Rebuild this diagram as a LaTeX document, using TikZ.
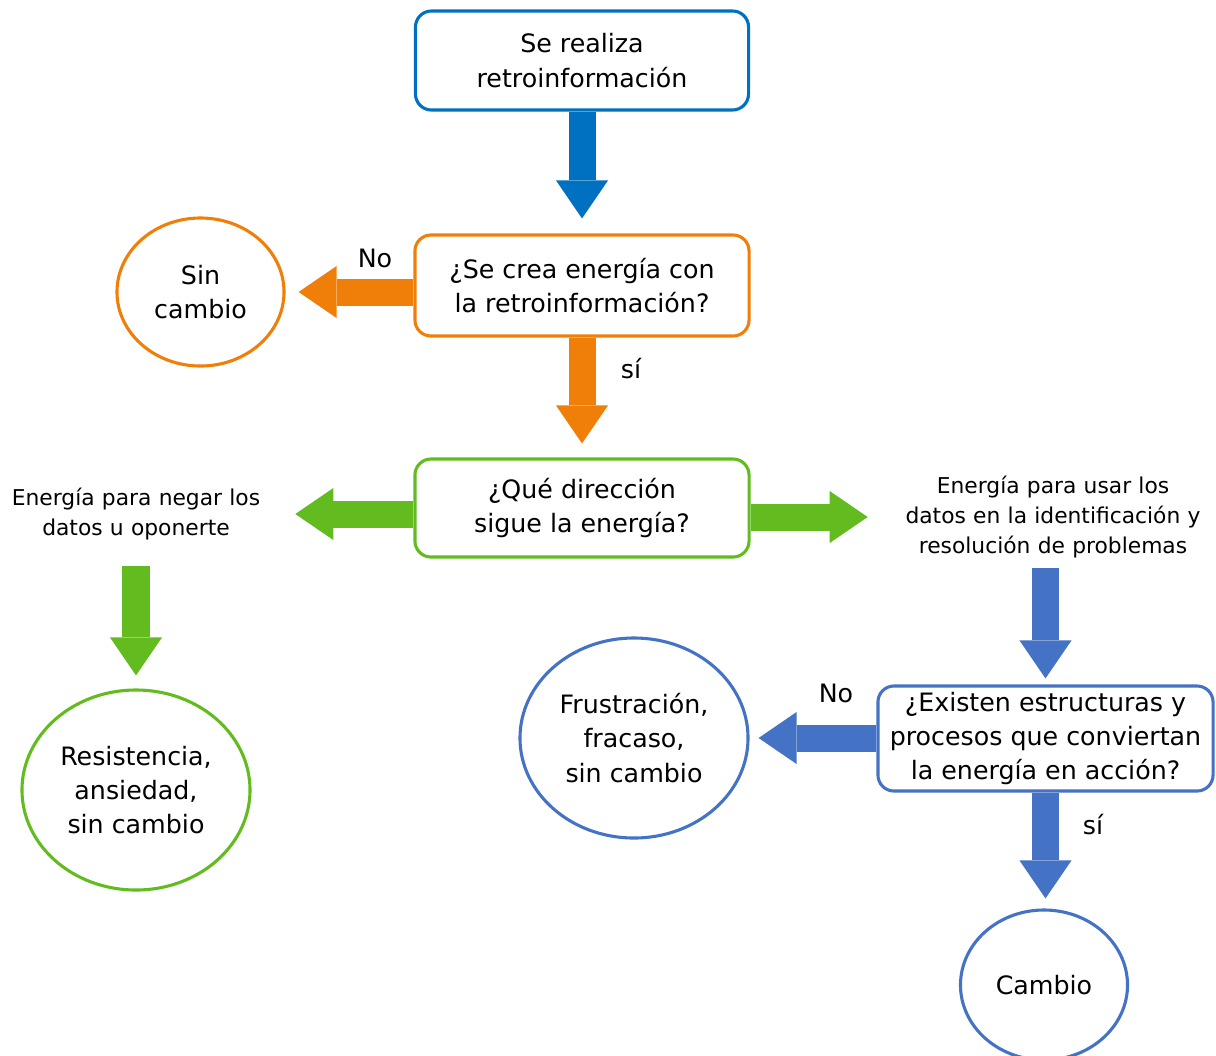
\documentclass[tikz,border=0pt]{standalone}
\usepackage{fontspec}
\setmainfont{DejaVu Sans}
\usetikzlibrary{positioning, arrows.meta, shapes.geometric}
\definecolor{fbBlue}{HTML}{0070C0}
\definecolor{fbOrange}{HTML}{F07F09}
\definecolor{fbGreen}{HTML}{62BB1F}
\definecolor{fbSteel}{HTML}{4472C4}

\tikzset{
  caja/.style={draw=#1, line width=2.2pt, rounded corners=0.4cm, fill=white,
    align=center, inner sep=0pt, font=\fontsize{18}{24.5}\selectfont},
  ovalo/.style={draw=#1, ellipse, line width=2.2pt, fill=white,
    align=center, inner sep=0pt, font=\fontsize{18}{24.5}\selectfont},
  nota/.style={align=center, inner sep=0pt, font=\fontsize{15.5}{21.3}\selectfont},
  rotulo/.style={inner sep=0pt, font=\fontsize{18}{24.5}\selectfont},
  flecha/.style={draw=#1, line width=0.675cm,
    -{Triangle[width=1.3cm, length=0.95cm, line width=0pt]}}
}

\begin{document}
\begin{tikzpicture}[x=0.025cm, y=-0.025cm]
  \useasboundingbox (0,0) rectangle (1216,1055);

  % Cajas de pregunta
  \node[caja=fbBlue, minimum width=8.325cm, minimum height=2.475cm]
    (retro) at (582,60.5) {Se realiza\\retroinformación};
  \node[caja=fbOrange, minimum width=8.35cm, minimum height=2.525cm]
    (energia) at (582,285.5) {¿Se crea energía con\\la retroinformación?};
  \node[caja=fbGreen, minimum width=8.35cm, minimum height=2.45cm]
    (direccion) at (582,508) {¿Qué dirección\\sigue la energía?};
  \node[caja=fbSteel, minimum width=8.375cm, minimum height=2.625cm]
    (estruct) at (1045.5,738.5) {¿Existen estructuras y\\procesos que conviertan\\la energía en acción?};

  % Resultados
  \node[ovalo=fbOrange, minimum width=4.175cm, minimum height=3.7cm]
    (sincambio) at (200.5,292) {Sin\\cambio};
  \node[ovalo=fbGreen, minimum width=5.7cm, minimum height=5cm]
    (resist) at (136,790) {Resistencia,\\ansiedad,\\sin cambio};
  \node[ovalo=fbSteel, minimum width=5.7cm, minimum height=5cm]
    (frust) at (634,738) {Frustración,\\fracaso,\\sin cambio};
  \node[ovalo=fbSteel, minimum width=4.175cm, minimum height=3.75cm]
    (cambio) at (1044,985) {Cambio};

  % Textos de direccion
  \node[nota, text width=6.3cm] (negar) at (136,514)
    {Energía para negar los\\datos u oponerte};
  \node[nota, text width=7.4cm] (usar) at (1053,517)
    {Energía para usar los\\datos en la identificación y\\resolución de problemas};

  % Flechas
  \draw[flecha=fbBlue, shorten >=0.375cm] (retro.south) -- (retro.south |- energia.north);
  \draw[flecha=fbOrange, shorten >=0.325cm] (sincambio.east -| energia.west) -- (sincambio.east);
  \draw[flecha=fbOrange, shorten >=0.35cm] (energia.south) -- (energia.south |- direccion.north);
  \draw[flecha=fbGreen, shorten >=0.825cm] (negar.east -| direccion.west) -- (negar.east);
  \draw[flecha=fbGreen, shorten >=0.925cm] (usar.west -| direccion.east) -- (usar.west);
  \draw[flecha=fbGreen, shorten <=0.65cm, shorten >=0.325cm] (resist.north |- negar.south) -- (resist.north);
  \draw[flecha=fbSteel, shorten <=0.25cm, shorten >=0.15cm] (estruct.north |- usar.south) -- (estruct.north);
  \draw[flecha=fbSteel, shorten >=0.225cm] (frust.east -| estruct.west) -- (frust.east);
  \draw[flecha=fbSteel, shorten >=0.25cm] (estruct.south) -- (estruct.south |- cambio.north);

  % Rotulos de las flechas
  \node[rotulo] (no1) at (375,258) {No};
  \node[rotulo] (si1) at (631,369) {sí};
  \node[rotulo] (no2) at (836,693) {No};
  \node[rotulo] (si2) at (1093,825) {sí};
\end{tikzpicture}
\end{document}
